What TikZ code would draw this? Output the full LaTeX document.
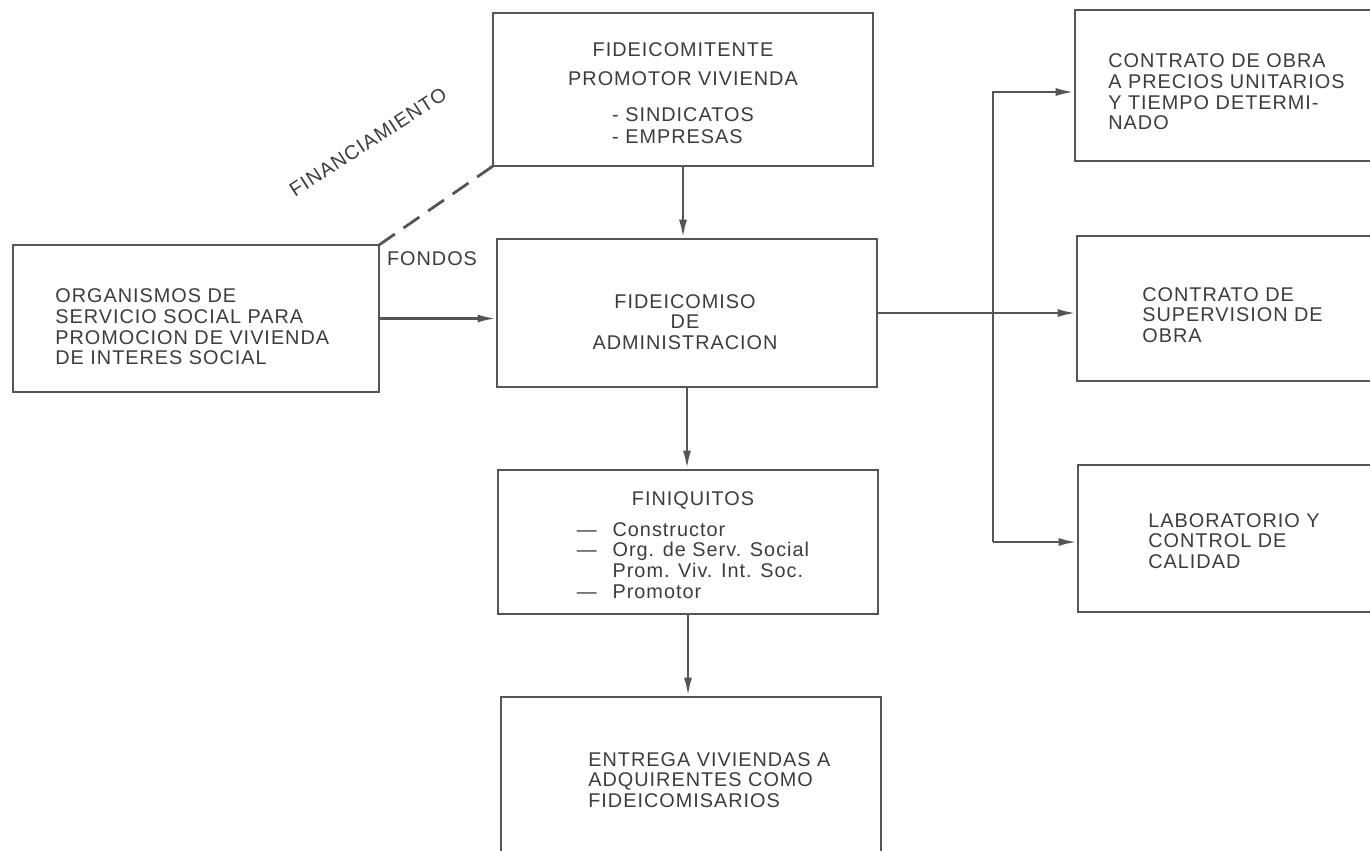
\documentclass[tikz,border=0pt]{standalone}
\usepackage{fontspec}
\usepackage{tikz}
\usetikzlibrary{arrows.meta}
\newfontfamily\boxfont{Liberation Sans}[LetterSpace=5]
\definecolor{inkgray}{HTML}{555555}
\definecolor{txtgray}{HTML}{3C3C3C}

\begin{document}
\begin{tikzpicture}[x=0.02cm, y=-0.02cm,
  box/.style={draw=inkgray, line width=1.6pt, inner sep=0pt, outer sep=0pt},
  txt/.style={inner sep=0pt, text=txtgray, font=\boxfont\fontsize{11.3}{11.8}\selectfont},
  arr/.style={draw=inkgray, line width=1.6pt, -{Latex[length=11pt,width=4.5pt]}},
  lnk/.style={draw=inkgray, line width=1.6pt}]
\useasboundingbox (0,0) rectangle (1370,850);
\clip (0,0) rectangle (1370,850);

\node[box, minimum width=7.6cm, minimum height=3.06cm] (fidc) at (683,89.5) {};
\node[box, minimum width=7.32cm, minimum height=2.94cm] (org) at (196,318.5) {};
\node[box, minimum width=7.6cm, minimum height=2.96cm] (fdad) at (687,313) {};
\node[box, minimum width=7.6cm, minimum height=2.88cm] (fini) at (688,542) {};
\node[box, minimum width=7.6cm, minimum height=3.66cm] (entr) at (691,788.5) {};
\node[box, minimum width=6.5cm, minimum height=3.02cm] (cobra) at (1237.5,85.5) {};
\node[box, minimum width=6.46cm, minimum height=2.9cm] (csup) at (1238.5,308.5) {};
\node[box, minimum width=6.44cm, minimum height=2.94cm] (lab) at (1239,538.5) {};

\node[txt, align=center] (fidctxt) at (683,96) {FIDEICOMITENTE\\[4.5pt] PROMOTOR VIVIENDA\\[11.5pt]
  \begin{tabular}{@{}l@{}}- SINDICATOS\\[0.5pt]- EMPRESAS\end{tabular}};
\node[txt, align=left, anchor=west] (orgtxt) at (55,327) {ORGANISMOS DE\\ SERVICIO SOCIAL PARA\\
  PROMOCION DE VIVIENDA\\ DE INTERES SOCIAL};
\node[txt, align=center] (fdadtxt) at (685,322) {FIDEICOMISO\\ DE\\ ADMINISTRACION};
\node[txt] (finitxt) at (693,548) {\begin{tabular}{@{}l@{\hspace{9pt}}l@{}}
  \multicolumn{2}{@{}c@{}}{FINIQUITOS}\\[5.5pt]
  — & Constructor\\
  — & Org. de Serv. Social\\
    & Prom. Viv. Int. Soc.\\
  — & Promotor\end{tabular}};
\node[txt, align=left, anchor=west] (entrtxt) at (588,780) {ENTREGA VIVIENDAS A\\ ADQUIRENTES COMO\\ FIDEICOMISARIOS};
\node[txt, align=left, anchor=west] (cobratxt) at (1108,92) {CONTRATO DE OBRA\\ A PRECIOS UNITARIOS\\
  Y TIEMPO DETERMI-\\ NADO};
\node[txt, align=left, anchor=west] (csuptxt) at (1142,315) {CONTRATO DE\\ SUPERVISION DE\\ OBRA};
\node[txt, align=left, anchor=west] (labtxt) at (1148,541) {LABORATORIO Y\\ CONTROL DE\\ CALIDAD};
\node[txt] (fondos) at (432,259) {FONDOS};
\node[txt, rotate=33] (finan) at (368,142) {FINANCIAMIENTO};

\coordinate (bustop) at (993,92);
\coordinate (busbot) at (993,542);

\draw[lnk, dash pattern=on 11pt off 6pt] (org.north east) -- (fidc.south west);
\draw[arr] (fidc.south) -- (fidc.south |- fdad.north);
\draw[arr] (org.east) -- (org.east -| fdad.west);
\draw[arr] (fdad.south) -- (fdad.south |- fini.north);
\draw[arr] (fini.south) -- (fini.south |- entr.north);
\draw[arr] (fdad.east) -- (fdad.east -| csup.west);
\draw[arr] (busbot) -- (bustop) -- (bustop -| cobra.west);
\draw[arr] (busbot) -- (busbot -| lab.west);
\end{tikzpicture}
\end{document}
